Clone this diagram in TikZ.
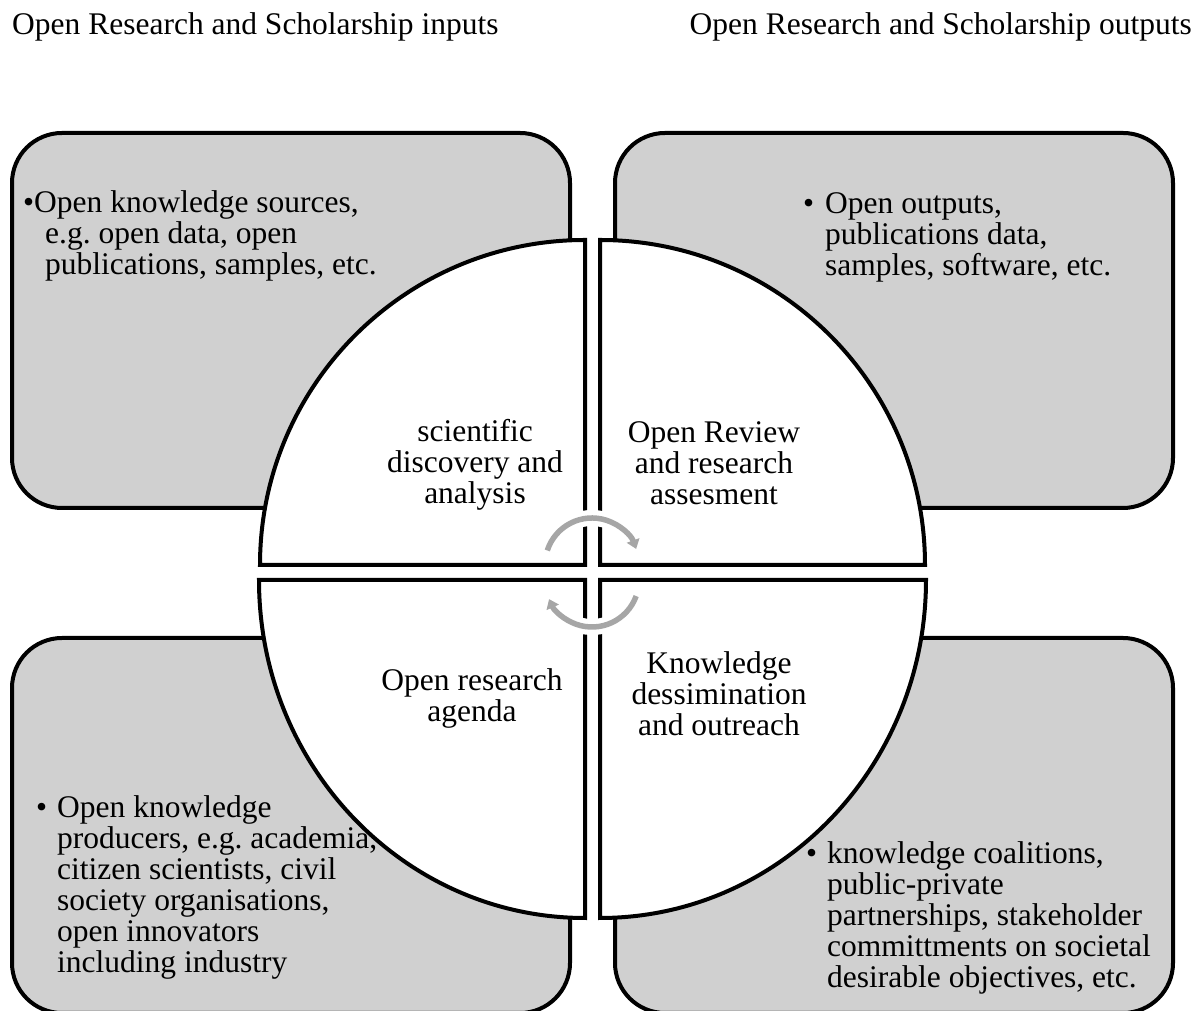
\documentclass[tikz,border=0pt]{standalone}
\usepackage{fontspec}
\setmainfont{Liberation Serif}
\usetikzlibrary{arrows.meta}
\definecolor{boxgray}{RGB}{208,208,208}
\definecolor{arrowgray}{RGB}{166,166,166}
\frenchspacing
\begin{document}
\begin{tikzpicture}[x=1pt,y=1pt,
  panel/.style={draw=black, line width=4pt, fill=boxgray, rounded corners=50pt, minimum width=558pt, minimum height=375pt, inner sep=0pt, outer sep=0pt},
  quarter/.style={draw=black, line width=4pt, fill=white},
  txt/.style={inner sep=0pt, font=\fontsize{31.5}{31}\selectfont},
  cyc/.style={line width=5.5pt, draw=arrowgray, -{Triangle[width=13pt,length=9pt]}},
  halo/.style={line width=16pt, draw=white}]
\useasboundingbox (0,0) rectangle (1203,1011);
\clip (0,0) rectangle (1203,1011);
% panels
\node[panel] (tl) at (291,690.5) {};
\node[panel] (tr) at (894,690.5) {};
\node[panel] (bl) at (291,185.5) {};
\node[panel] (br) at (894,185.5) {};
% quarter circles
\path[quarter] (585,446) -- (260,446) arc[start angle=180,end angle=90,radius=325] -- cycle;
\path[quarter] (600,446) -- (600,771) arc[start angle=90,end angle=0,radius=325] -- cycle;
\path[quarter] (585,431) -- (585,93) arc[start angle=270,end angle=180,x radius=326,y radius=338] -- cycle;
\path[quarter] (600,431) -- (926,431) arc[start angle=0,end angle=-90,x radius=326,y radius=338] -- cycle;
% cycle arrows
\draw[halo] (592,446) ++(162:47) arc[start angle=162,end angle=20,radius=47];
\draw[cyc] (592,446) ++(162:47) arc[start angle=162,end angle=20,radius=47];
\draw[halo] (592,431) ++(-20:47) arc[start angle=-20,end angle=-156,radius=47];
\draw[cyc] (592,431) ++(-20:47) arc[start angle=-20,end angle=-156,radius=47];
% titles
\node[txt, anchor=base west] (tin) at (12,976) {Open Research and Scholarship inputs};
\node[txt, anchor=base east] (tout) at (1192,976) {Open Research and Scholarship outputs};
% panel texts
\node[txt, anchor=north west] (tlt) at (23,820.7) {\begin{tabular}{@{}l@{}}•Open knowledge sources,\\ \hspace*{22pt}e.g. open data, open\\ \hspace*{22pt}publications, samples, etc.\end{tabular}};
\node[txt, anchor=north west] (trt) at (803,819.7) {\begin{tabular}{@{}l@{}}\makebox[22pt][l]{•}Open outputs,\\ \hspace*{22pt}publications data,\\ \hspace*{22pt}samples, software, etc.\end{tabular}};
\node[txt, anchor=north west] (blt) at (36,215.7) {\begin{tabular}{@{}l@{}}\makebox[21pt][l]{•}Open knowledge\\ \hspace*{21pt}producers, e.g. academia,\\ \hspace*{21pt}citizen scientists, civil\\ \hspace*{21pt}society organisations,\\ \hspace*{21pt}open innovators\\ \hspace*{21pt}including industry\end{tabular}};
\node[txt, anchor=north west] (brt) at (806,169.7) {\begin{tabular}{@{}l@{}}\makebox[21pt][l]{•}knowledge coalitions,\\ \hspace*{21pt}public-private\\ \hspace*{21pt}partnerships, stakeholder\\ \hspace*{21pt}committments on societal\\ \hspace*{21pt}desirable objectives, etc.\end{tabular}};
% quarter labels
\node[txt, anchor=north] (q1) at (475,591.7) {\begin{tabular}{@{}c@{}}scientific\\discovery and\\analysis\end{tabular}};
\node[txt, anchor=north] (q2) at (714,590.7) {\begin{tabular}{@{}c@{}}Open Review\\and research\\assesment\end{tabular}};
\node[txt, anchor=north] (q3) at (472,342.7) {\begin{tabular}{@{}c@{}}Open research\\agenda\end{tabular}};
\node[txt, anchor=north] (q4) at (719,359.7) {\begin{tabular}{@{}c@{}}Knowledge\\dessimination\\and outreach\end{tabular}};
\end{tikzpicture}
\end{document}
